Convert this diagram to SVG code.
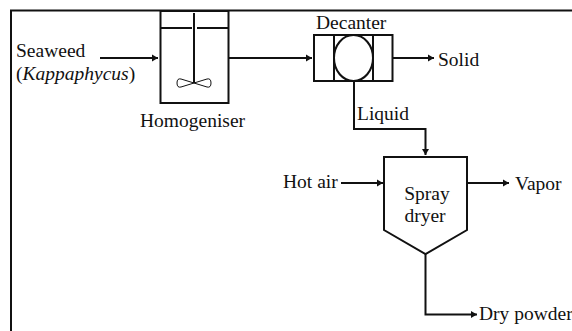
<svg xmlns="http://www.w3.org/2000/svg" width="572" height="331" viewBox="0 0 572 331">
<style>
text{font-family:"Liberation Serif","Times New Roman",serif;font-size:19.5px;fill:#111}
.s{fill:none;stroke:#111;stroke-width:2}
.t{fill:none;stroke:#111;stroke-width:1}
.c{fill:none;stroke:#111;stroke-width:2;marker-end:url(#a)}
</style>
<defs><marker id="a" markerUnits="userSpaceOnUse" markerWidth="8" markerHeight="8" refX="6" refY="4" orient="auto"><path d="M0 0.500L6 4L0 7.500Z" fill="#111"/></marker></defs>
<rect width="572" height="331" fill="#fff"/>
<path id="frame" class="s" d="M11 331V10.500H572"/>
<g id="connectors">
<path class="c" d="M100 58H158"/>
<path class="c" d="M229 58H312"/>
<path class="c" d="M393 58H434"/>
<path class="c" d="M354 81V129H425.500V155"/>
<path class="c" d="M341 183H383"/>
<path class="c" d="M467 183H509"/>
<path class="c" d="M425.500 254V314.500H477"/>
</g>
<g id="homogeniser">
<rect class="s" x="160.500" y="11" width="68" height="92"/>
<path class="s" d="M161 28H192M197 28H229M194 13V83"/>
<path class="t" d="M194 83L181 79Q177 78 177 83Q177 88 181 87L194 83L207 79Q211 78 211 83Q211 88 207 87Z"/>
<text x="140" y="127">Homogeniser</text>
</g>
<g id="decanter">
<rect class="s" x="314" y="35" width="78.500" height="46"/>
<path class="s" d="M334 35V81M373 35V81"/>
<ellipse class="s" cx="353.500" cy="58" rx="19.500" ry="23"/>
<text x="316" y="29">Decanter</text>
</g>
<g id="spray-dryer">
<path class="s" d="M384 157H467V230L425.500 254L384 230Z"/>
<text x="427" y="200" text-anchor="middle">Spray</text>
<text x="425" y="222" text-anchor="middle">dryer</text>
</g>
<g id="labels">
<text x="16" y="57">Seaweed</text>
<text x="16" y="80">(<tspan font-style="italic">Kappaphycus</tspan>)</text>
<text x="438" y="66">Solid</text>
<text x="357" y="120">Liquid</text>
<text x="283" y="188">Hot air</text>
<text x="515" y="190">Vapor</text>
<text x="479" y="320">Dry powder</text>
</g>
</svg>
